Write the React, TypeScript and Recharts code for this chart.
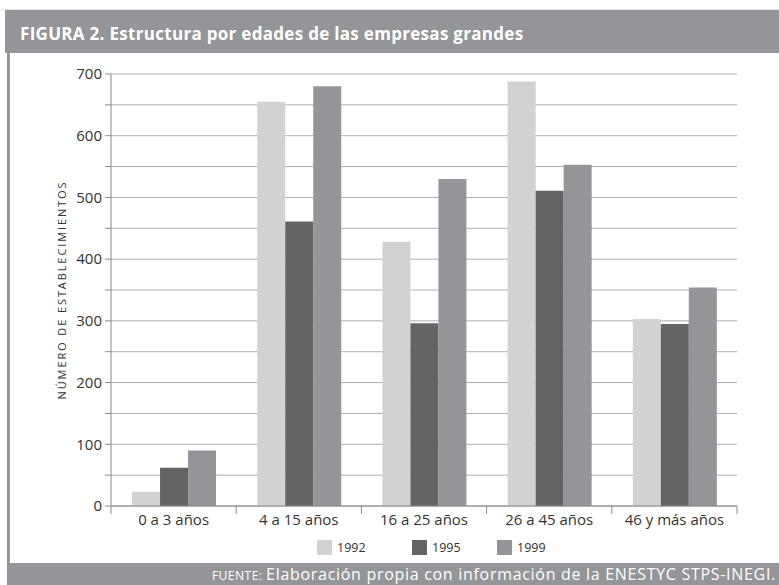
import { BarChart, Bar, XAxis, YAxis, CartesianGrid, Legend } from 'recharts'

const categories = ['0 a 3 años', '4 a 15 años', '16 a 25 años', '26 a 45 años', '46 y más años']
const values1992 = [23, 655, 428, 688, 303]
const values1995 = [62, 461, 296, 511, 295]
const values1999 = [90, 680, 530, 553, 354]
const yTicks = [0, 50, 100, 150, 200, 250, 300, 350, 400, 450, 500, 550, 600, 650, 700]

const series = [
  { key: 'y1992', name: '1992', color: '#d1d2d4' },
  { key: 'y1995', name: '1995', color: '#636466' },
  { key: 'y1999', name: '1999', color: '#939598' },
]

const data = categories.map((cat, i) => ({
  cat,
  y1992: values1992[i],
  y1995: values1995[i],
  y1999: values1999[i],
}))

const FONT = '"Open Sans", "Noto Sans", sans-serif'
const PLOT_LEFT = 111
const PLOT_RIGHT = 737
const BAND = (PLOT_RIGHT - PLOT_LEFT) / categories.length

function CategoryTick(props: any) {
  const { x, y, payload, index } = props
  return (
    <g>
      <line x1={x - BAND / 2} x2={x - BAND / 2} y1={y} y2={y + 8} stroke="#8a8a8a" />
      {index === categories.length - 1 && (
        <line x1={x + BAND / 2} x2={x + BAND / 2} y1={y} y2={y + 8} stroke="#8a8a8a" />
      )}
      <text x={x} y={y + 19} textAnchor="middle" fontSize={15} fill="#333" fontFamily={FONT}>
        {payload.value}
      </text>
    </g>
  )
}

function LegendContent() {
  const widths = [95, 85, 60]
  return (
    <div style={{ display: 'flex', paddingLeft: 317, height: 22, alignItems: 'center' }}>
      {series.map((s, i) => (
        <div key={s.key} style={{ display: 'flex', alignItems: 'center', width: widths[i] }}>
          <span style={{ width: 15, height: 15, background: s.color, display: 'inline-block' }} />
          <span style={{ marginLeft: 5, fontSize: 12.5, color: '#333', fontFamily: FONT }}>{s.name}</span>
        </div>
      ))}
    </div>
  )
}

export default function App() {
  return (
    <div style={{ position: 'absolute', left: 0, top: 0, width: 779, height: 585, background: '#fff', overflow: 'hidden' }}>
      <div style={{ position: 'absolute', left: 0, top: 9, width: 779, height: 1, background: '#e2e2e2' }} />
      <div
        style={{
          position: 'absolute', left: 5, top: 10, width: 774, height: 43, background: '#939598',
          color: '#fff', fontFamily: FONT, whiteSpace: 'nowrap', letterSpacing: 0.3,
          fontWeight: 'bold', fontSize: 17, lineHeight: '47px', paddingLeft: 15, boxSizing: 'border-box',
        }}
      >
        FIGURA 2. Estructura por edades de las empresas grandes
      </div>
      <div style={{ position: 'absolute', left: 7, top: 53, width: 3, height: 510, background: '#939598' }} />
      <div
        style={{
          position: 'absolute', left: 7, top: 563, width: 772, height: 22, background: '#939598',
          color: '#fff', fontFamily: FONT, textAlign: 'right', paddingRight: 3, boxSizing: 'border-box',
          lineHeight: '23px', whiteSpace: 'nowrap',
        }}
      >
        <span style={{ fontSize: 12, letterSpacing: 0.5 }}>FUENTE: </span>
        <span style={{ fontSize: 16, letterSpacing: 0.7 }}>Elaboración propia con información de la ENESTYC STPS-INEGI.</span>
      </div>
      <div style={{ position: 'absolute', left: 0, top: 53 }}>
        <BarChart
          width={779}
          height={510}
          data={data}
          margin={{ top: 21, right: 779 - PLOT_RIGHT, left: 0, bottom: 5 }}
          barCategoryGap="16.8%"
          barGap={0}
        >
          <CartesianGrid vertical={false} stroke="#ababab" />
          <XAxis
            dataKey="cat"
            height={30}
            tickSize={0}
            tickMargin={0}
            tickLine={false}
            tick={<CategoryTick />}
            axisLine={{ stroke: '#8a8a8a' }}
            interval={0}
          />
          <YAxis
            width={PLOT_LEFT}
            domain={[0, 700]}
            ticks={yTicks}
            interval={0}
            tickSize={6}
            tickMargin={3}
            tickLine={{ stroke: '#8a8a8a' }}
            axisLine={{ stroke: '#8a8a8a' }}
            tickFormatter={(v: number) => (v % 100 === 0 ? String(v) : '')}
            tick={{ fontSize: 15, fill: '#333', fontFamily: FONT }}
            label={{
              value: 'NÚMERO DE ESTABLECIMIENTOS',
              angle: -90,
              position: 'insideLeft',
              offset: 0,
              dx: 62,
              style: { fontSize: 11, fill: '#333', fontFamily: FONT, letterSpacing: 1.9, textAnchor: 'middle' },
            }}
          />
          <Legend verticalAlign="bottom" height={22} content={<LegendContent />} />
          {series.map((s) => (
            <Bar key={s.key} dataKey={s.key} name={s.name} fill={s.color} isAnimationActive={false} />
          ))}
        </BarChart>
      </div>
    </div>
  )
}
